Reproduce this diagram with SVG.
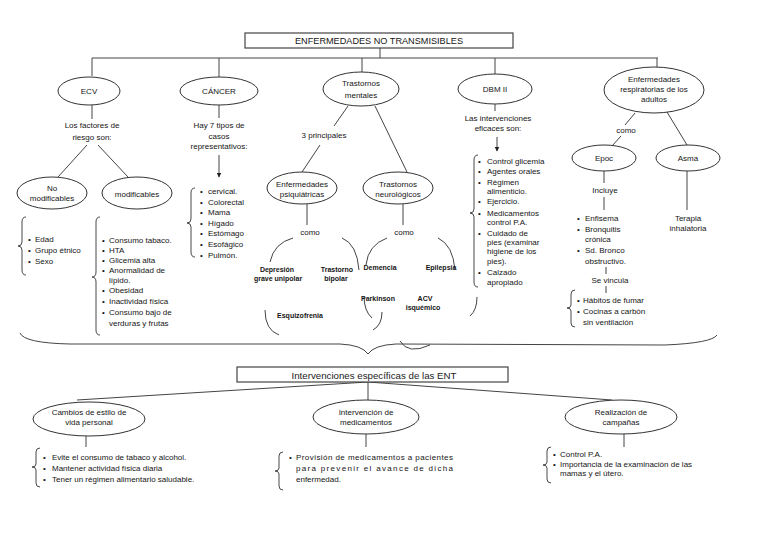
<svg xmlns="http://www.w3.org/2000/svg" width="768" height="543" viewBox="0 0 768 543">
<defs>
<style>
.t{font-family:"Liberation Sans",Arial,sans-serif;font-size:8px;fill:#151515;text-anchor:middle;dominant-baseline:central}
.l{text-anchor:start}
.b{font-size:7px;font-weight:bold}
.ln{fill:none;stroke:#444;stroke-width:1}
.el{fill:#fff;stroke:#333;stroke-width:1}
.bx{fill:#fff;stroke:#444;stroke-width:1.2}
.br{fill:none;stroke:#333;stroke-width:0.9}
</style>
<marker id="ar" viewBox="0 0 10 10" refX="9" refY="5" markerWidth="5" markerHeight="5" orient="auto"><path d="M0,0L10,5L0,10z" fill="#222"/></marker>
</defs>
<rect width="768" height="543" fill="#fff"/>

<g id="connectors">
<line class="ln" x1="380" y1="48" x2="380" y2="58"/>
<line class="ln" x1="92" y1="58" x2="658" y2="58"/>
<line class="ln" x1="92" y1="58" x2="92" y2="76"/>
<line class="ln" x1="219" y1="58" x2="219" y2="77"/>
<line class="ln" x1="362" y1="58" x2="362" y2="72"/>
<line class="ln" x1="495" y1="58" x2="495" y2="74"/>
<line class="ln" x1="657" y1="58" x2="657" y2="67"/>
<!-- ECV -->
<line class="ln" x1="92" y1="105" x2="92" y2="119"/>
<line class="ln" x1="87" y1="145" x2="58" y2="177"/>
<line class="ln" x1="98" y1="145" x2="128" y2="177"/>
<!-- Cancer -->
<line class="ln" x1="219" y1="105" x2="219" y2="118"/>
<line class="ln" x1="219" y1="155" x2="219" y2="177" marker-end="url(#ar)"/>
<!-- Trastornos mentales -->
<line class="ln" x1="348" y1="106" x2="334" y2="126"/>
<line class="ln" x1="320" y1="145" x2="302" y2="172"/>
<line class="ln" x1="375" y1="106" x2="407" y2="172"/>
<line class="ln" x1="307" y1="204" x2="307" y2="225"/>
<line class="ln" x1="403" y1="204" x2="403" y2="225"/>
<path class="ln" d="M293,238 Q274,243 270,262"/>
<path class="ln" d="M342,238 Q357,244 359,270"/>
<path class="ln" d="M387,238 Q368,245 366,265"/>
<path class="ln" d="M438,238 Q453,245 455,270"/>
<path class="ln" d="M265,310 Q265,330 279,335"/>
<path class="ln" d="M364,296 Q364,311 372,318"/>
<path class="ln" d="M382,312 Q382,325 373,330"/>
<path class="ln" d="M477,297 Q477,310 470,316"/>
<path class="ln" d="M400,341 Q408,355 430,345"/>
<!-- DBM -->
<line class="ln" x1="495" y1="104" x2="495" y2="111"/>
<line class="ln" x1="497" y1="137" x2="497" y2="151" marker-end="url(#ar)"/>
<!-- Respiratory -->
<line class="ln" x1="635" y1="113" x2="625" y2="125"/>
<line class="ln" x1="621" y1="136" x2="612" y2="146"/>
<line class="ln" x1="667" y1="112" x2="687" y2="145"/>
<line class="ln" x1="604" y1="171" x2="604" y2="183"/>
<line class="ln" x1="604" y1="197" x2="604" y2="210"/>
<line class="ln" x1="687" y1="171" x2="687" y2="210"/>
<line class="ln" x1="606" y1="267" x2="606" y2="274"/>
<line class="ln" x1="606" y1="286" x2="606" y2="293"/>
<!-- big brace -->
<path class="ln" d="M20,333 Q24,343 70,344 L340,344 Q362,345 368,354 Q374,345 396,344 L665,345 Q712,343 717,335"/>
<!-- bottom tree -->
<line class="ln" x1="368" y1="382" x2="77" y2="400"/>
<line class="ln" x1="368" y1="382" x2="612" y2="400"/>
<line class="ln" x1="368" y1="382" x2="368" y2="400"/>
<line class="ln" x1="86" y1="436" x2="86" y2="447"/>
<line class="ln" x1="366" y1="433" x2="366" y2="447"/>
<line class="ln" x1="624" y1="433" x2="624" y2="447"/>
<!-- braces -->
<path class="br" d="M26,217 Q22,217 22,222 L22,242 Q22,246 18,246 Q22,246 22,250 L22,270 Q22,275 26,275"/>
<path class="br" d="M100,217 Q96,217 96,222 L96,272 Q96,277 92,277 Q96,277 96,282 L96,330 Q96,335 100,335"/>
<path class="br" d="M195,188 Q191,188 191,193 L191,219 Q191,223 187,223 Q191,223 191,227 L191,252 Q191,257 195,257"/>
<path class="br" d="M478,155 Q474,155 474,160 L474,209 Q474,213 470,213 Q474,213 474,217 L474,282 Q474,287 478,287"/>
<path class="br" d="M575,290 Q571,290 571,294 L571,305 Q571,308 567,308 Q571,308 571,311 L571,323 Q571,327 575,327"/>
<path class="br" d="M40,448 Q36,448 36,452 L36,464 Q36,467 32,467 Q36,467 36,470 L36,483 Q36,487 40,487"/>
<path class="br" d="M283,452 Q279,452 279,456 L279,468 Q279,471 275,471 Q279,471 279,474 L279,486 Q279,490 283,490"/>
<path class="br" d="M551,447 Q547,447 547,451 L547,462 Q547,465 543,465 Q547,465 547,468 L547,479 Q547,483 551,483"/>
</g>

<g id="title">
<rect class="bx" x="245" y="33" width="268" height="15"/>
<text class="t" x="379" y="41" style="font-size:8.5px" textLength="168" lengthAdjust="spacingAndGlyphs">ENFERMEDADES NO TRANSMISIBLES</text>
</g>

<g id="ecv">
<ellipse class="el" cx="89" cy="91" rx="31" ry="14"/>
<text class="t" x="89" y="91">ECV</text>
<text class="t" x="92" y="125">Los factores de</text>
<text class="t" x="92" y="137">riesgo son:</text>
</g>
<g id="no-modificables">
<ellipse class="el" cx="52" cy="193" rx="35" ry="16"/>
<text class="t" x="52" y="188">No</text>
<text class="t" x="52" y="198">modificables</text>
<text class="t l" x="28" y="239">•</text><text class="t l" x="35" y="239">Edad</text>
<text class="t l" x="28" y="250">•</text><text class="t l" x="35" y="250">Grupo étnico</text>
<text class="t l" x="28" y="261">•</text><text class="t l" x="35" y="261">Sexo</text>
</g>
<g id="modificables">
<ellipse class="el" cx="137" cy="193" rx="35" ry="16"/>
<text class="t" x="137" y="194">modificables</text>
<text class="t l" x="102" y="240">•</text><text class="t l" x="109" y="240">Consumo tabaco.</text>
<text class="t l" x="102" y="250">•</text><text class="t l" x="109" y="250">HTA</text>
<text class="t l" x="102" y="260">•</text><text class="t l" x="109" y="260">Glicemia alta</text>
<text class="t l" x="102" y="270">•</text><text class="t l" x="109" y="270">Anormalidad de</text>
<text class="t l" x="109" y="280">lípido.</text>
<text class="t l" x="102" y="290">•</text><text class="t l" x="109" y="290">Obesidad</text>
<text class="t l" x="102" y="301">•</text><text class="t l" x="109" y="301">Inactividad física</text>
<text class="t l" x="102" y="312">•</text><text class="t l" x="109" y="312">Consumo bajo de</text>
<text class="t l" x="109" y="323">verduras y frutas</text>
</g>

<g id="cancer">
<ellipse class="el" cx="219" cy="91" rx="39" ry="14"/>
<text class="t" x="219" y="91">CÁNCER</text>
<text class="t" x="219" y="125">Hay 7 tipos de</text>
<text class="t" x="219" y="136">casos</text>
<text class="t" x="219" y="146">representativos:</text>
<text class="t l" x="200" y="191">•</text><text class="t l" x="208" y="191">cervical.</text>
<text class="t l" x="200" y="202">•</text><text class="t l" x="208" y="202">Colorectal</text>
<text class="t l" x="200" y="212">•</text><text class="t l" x="208" y="212">Mama</text>
<text class="t l" x="200" y="223">•</text><text class="t l" x="208" y="223">Hígado</text>
<text class="t l" x="200" y="233">•</text><text class="t l" x="208" y="233">Estómago</text>
<text class="t l" x="200" y="244">•</text><text class="t l" x="208" y="244">Esofágico</text>
<text class="t l" x="200" y="255">•</text><text class="t l" x="208" y="255">Pulmón.</text>
</g>

<g id="trastornos-mentales">
<ellipse class="el" cx="361" cy="89" rx="38" ry="17"/>
<text class="t" x="361" y="83">Trastornos</text>
<text class="t" x="361" y="95">mentales</text>
<text class="t" x="324" y="135">3 principales</text>
</g>
<g id="psiquiatricas">
<ellipse class="el" cx="302" cy="188" rx="35" ry="16"/>
<text class="t" x="302" y="184">Enfermedades</text>
<text class="t" x="302" y="194">psiquiátricas</text>
<text class="t" x="310" y="232">como</text>
<text class="t b" x="277" y="269">Depresión</text>
<text class="t b" x="278" y="278">grave unipolar</text>
<text class="t b" x="337" y="269">Trastorno</text>
<text class="t b" x="336" y="278">bipolar</text>
<text class="t b" x="300" y="315">Esquizofrenia</text>
</g>
<g id="neurologicos">
<ellipse class="el" cx="398" cy="188" rx="35" ry="16"/>
<text class="t" x="398" y="184">Trastornos</text>
<text class="t" x="398" y="194">neurológicos</text>
<text class="t" x="404" y="232">como</text>
<text class="t b" x="380" y="267">Demencia</text>
<text class="t b" x="441" y="267">Epilepsia</text>
<text class="t b" x="378" y="298">Parkinson</text>
<text class="t b" x="425" y="298">ACV</text>
<text class="t b" x="423" y="307">isquémico</text>
</g>

<g id="dbm">
<ellipse class="el" cx="495" cy="89" rx="37" ry="15"/>
<text class="t" x="495" y="89">DBM II</text>
<text class="t" x="498" y="118">Las intervenciones</text>
<text class="t" x="498" y="128">eficaces son:</text>
<text class="t l" x="478" y="161">•</text><text class="t l" x="487" y="161">Control glicemia</text>
<text class="t l" x="478" y="171">•</text><text class="t l" x="487" y="171">Agentes orales</text>
<text class="t l" x="478" y="182">•</text><text class="t l" x="487" y="182">Régimen</text>
<text class="t l" x="487" y="191">alimenticio.</text>
<text class="t l" x="478" y="201">•</text><text class="t l" x="487" y="201">Ejercicio.</text>
<text class="t l" x="478" y="213">•</text><text class="t l" x="487" y="213">Medicamentos</text>
<text class="t l" x="487" y="222">control P.A.</text>
<text class="t l" x="478" y="233">•</text><text class="t l" x="487" y="233">Cuidado de</text>
<text class="t l" x="487" y="242">pies (examinar</text>
<text class="t l" x="487" y="251">higiene de los</text>
<text class="t l" x="487" y="261">pies).</text>
<text class="t l" x="478" y="272">•</text><text class="t l" x="487" y="272">Calzado</text>
<text class="t l" x="487" y="282">apropiado</text>
</g>

<g id="respiratorias">
<ellipse class="el" cx="654" cy="90" rx="50" ry="23"/>
<text class="t" x="654" y="79">Enfermedades</text>
<text class="t" x="654" y="89">respiratorias de los</text>
<text class="t" x="654" y="99">adultos</text>
<text class="t" x="626" y="130">como</text>
</g>
<g id="epoc">
<ellipse class="el" cx="604" cy="158" rx="32" ry="13"/>
<text class="t" x="604" y="158">Epoc</text>
<text class="t" x="605" y="190">Incluye</text>
<text class="t l" x="577" y="218">•</text><text class="t l" x="585" y="218">Enfisema</text>
<text class="t l" x="577" y="229">•</text><text class="t l" x="585" y="229">Bronquitis</text>
<text class="t l" x="585" y="239">crónica</text>
<text class="t l" x="577" y="250">•</text><text class="t l" x="585" y="250">Sd. Bronco</text>
<text class="t l" x="585" y="261">obstructivo.</text>
<text class="t" x="610" y="280">Se vincula</text>
<text class="t l" x="577" y="300">•</text><text class="t l" x="583" y="300">Hábitos de fumar</text>
<text class="t l" x="577" y="311">•</text><text class="t l" x="583" y="311">Cocinas a carbón</text>
<text class="t l" x="583" y="322">sin ventilación</text>
</g>
<g id="asma">
<ellipse class="el" cx="688" cy="158" rx="32" ry="13"/>
<text class="t" x="688" y="158">Asma</text>
<text class="t" x="688" y="218">Terapia</text>
<text class="t" x="688" y="228">inhalatoria</text>
</g>

<g id="intervenciones">
<rect class="bx" x="237" y="367" width="271" height="15"/>
<text class="t" x="374" y="375" style="font-size:9.5px;fill:#222" textLength="165" lengthAdjust="spacingAndGlyphs">Intervenciones específicas de las ENT</text>
</g>
<g id="cambios">
<ellipse class="el" cx="89" cy="419" rx="56" ry="17"/>
<text class="t" x="89" y="412">Cambios de estilo de</text>
<text class="t" x="89" y="422">vida personal</text>
<text class="t l" x="43" y="457">•</text><text class="t l" x="52" y="457">Evite el consumo de tabaco y alcohol.</text>
<text class="t l" x="43" y="468">•</text><text class="t l" x="52" y="468">Mantener actividad física diaria</text>
<text class="t l" x="43" y="479">•</text><text class="t l" x="52" y="479">Tener un régimen alimentario saludable.</text>
</g>
<g id="medicamentos">
<ellipse class="el" cx="366" cy="417" rx="53" ry="17"/>
<text class="t" x="366" y="412">Intervención de</text>
<text class="t" x="366" y="422">medicamentos</text>
<text class="t l" x="289" y="457">•</text><text class="t l" x="296" y="457" textLength="157" lengthAdjust="spacing">Provisión de medicamentos a pacientes</text>
<text class="t l" x="296" y="468" textLength="157" lengthAdjust="spacing">para prevenir el avance de dicha</text>
<text class="t l" x="296" y="479">enfermedad.</text>
</g>
<g id="campanas">
<ellipse class="el" cx="621" cy="417" rx="56" ry="17"/>
<text class="t" x="621" y="412">Realización de</text>
<text class="t" x="621" y="422">campañas</text>
<text class="t l" x="553" y="454">•</text><text class="t l" x="560" y="454">Control P.A.</text>
<text class="t l" x="553" y="464">•</text><text class="t l" x="560" y="464">Importancia de la examinación de las</text>
<text class="t l" x="560" y="473">mamas y el útero.</text>
</g>
</svg>
